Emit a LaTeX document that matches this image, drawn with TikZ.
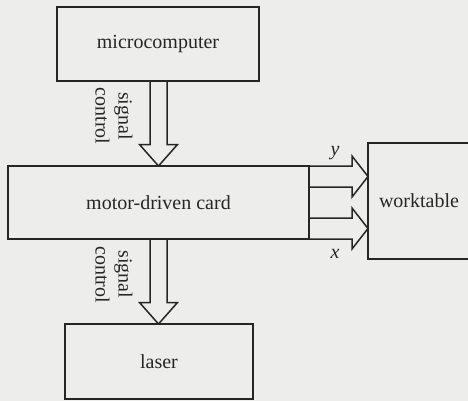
\documentclass[tikz,border=0pt]{standalone}
\usepackage{fontspec}
\setmainfont{Liberation Serif}
\usetikzlibrary{calc}
\definecolor{bg}{RGB}{237,237,235}
\definecolor{ink}{RGB}{38,38,38}
\tikzset{
  box/.style={draw=ink, line width=1.5pt, inner sep=0pt, outer sep=0pt,
    text=ink, font=\fontsize{20}{24}\selectfont},
  openbox/.style={inner sep=0pt, outer sep=0pt,
    text=ink, font=\fontsize{20}{24}\selectfont},
  conn/.style={draw=ink, line width=1.5pt, line join=miter},
  lbl/.style={text=ink, font=\fontsize{20}{23}\selectfont, inner sep=0pt},
}
\newcommand{\vblockarrow}[2]{% #1 shaft start, #2 tip
  \draw[conn] let \p1=(#1), \p2=(#2) in
    (\x2-8.5pt,\y1) -- (\x2-8.5pt,\y2+21.5pt) -- (\x2-19pt,\y2+21.5pt) -- (\p2)
    -- (\x2+19pt,\y2+21.5pt) -- (\x2+8.5pt,\y2+21.5pt) -- (\x2+8.5pt,\y1);}
\newcommand{\hblockarrow}[2]{% #1 shaft start (centre), #2 tip
  \draw[conn] let \p1=(#1), \p2=(#2) in
    (\x1,\y1+10.5pt) -- (\x2-16pt,\y1+10.5pt) -- (\x2-16pt,\y1+20.5pt) -- (\p2)
    -- (\x2-16pt,\y1-20.5pt) -- (\x2-16pt,\y1-10.5pt) -- (\x1,\y1-10.5pt);}
\begin{document}
\begin{tikzpicture}[x=1pt,y=-1pt]
  \fill[bg] (0,0) rectangle (468,401);
  \useasboundingbox (0,0) rectangle (468,401);
  \clip (0,0) rectangle (468,401);

  \node[box, minimum width=202pt, minimum height=74pt] (mc) at (158,44) {microcomputer};
  \node[box, minimum width=301pt, minimum height=73pt] (card) at (158.5,202.5) {motor-driven card};
  \node[box, minimum width=188pt, minimum height=75pt] (laser) at (159,361.5) {laser};
  \node[openbox, minimum width=102pt, minimum height=116pt] (wt) at (419,201) {worktable};
  \draw[conn] ($(wt.north east)+(20,0)$) -- (wt.north west) -- (wt.south west) -- ($(wt.south east)+(20,0)$);

  % vertical block arrows
  \coordinate (a1s) at (mc.south -| card.north);
  \vblockarrow{a1s}{card.north}
  \coordinate (a2t) at (laser.north -| card.south);
  \vblockarrow{card.south}{a2t}

  % horizontal block arrows
  \coordinate (ys) at ($(card.north east)+(0,10.5)$);
  \coordinate (yt) at (ys -| wt.west);
  \hblockarrow{ys}{yt}
  \coordinate (xs) at ($(card.south east)+(0,-10.5)$);
  \coordinate (xt) at (xs -| wt.west);
  \hblockarrow{xs}{xt}

  % labels
  \node[lbl, rotate=-90, align=center] (l1) at (114,116) {signal\\control};
  \node[lbl, rotate=-90, align=center] (l2) at (114,274.5) {signal\\control};
  \node[lbl] (ly) at (335,153) {\itshape y};
  \node[lbl] (lx) at (335,254) {\itshape x};
\end{tikzpicture}
\end{document}
